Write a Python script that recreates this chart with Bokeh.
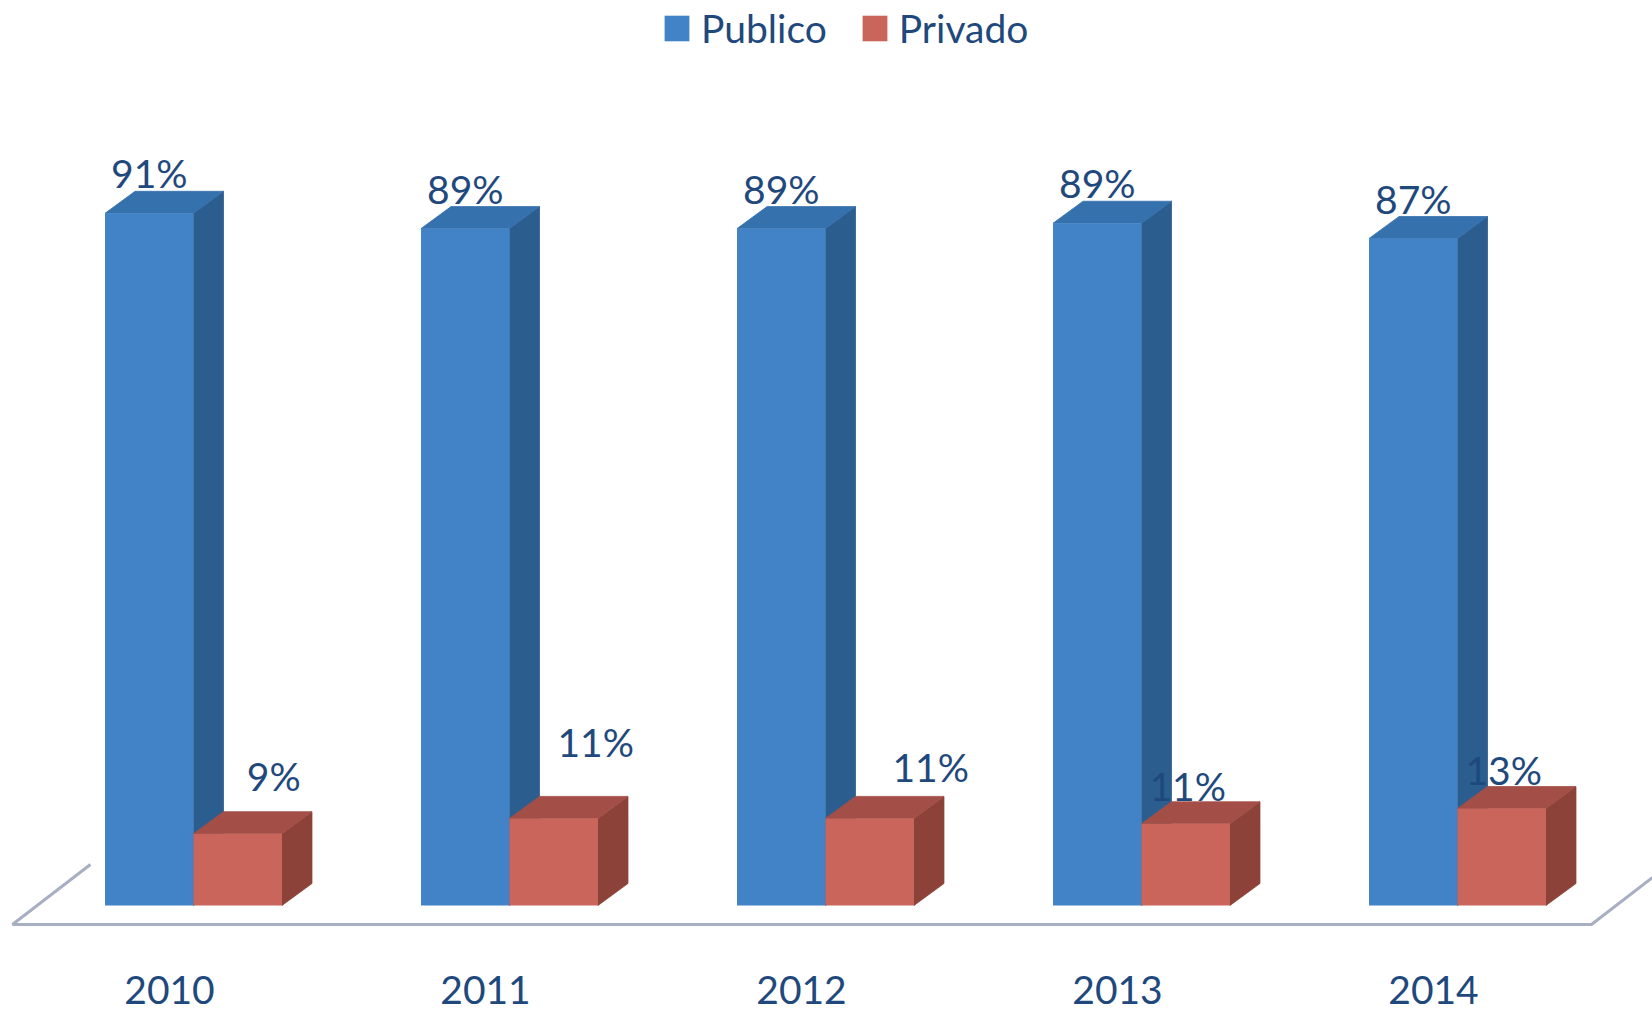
import numpy as np
from bokeh.plotting import figure
from bokeh.models import ColumnDataSource, Legend, LegendItem, Range1d
from bokeh.core.properties import value
from bokeh.embed import file_html
from bokeh.resources import INLINE

# ---------------- data ----------------
years = ["2010", "2011", "2012", "2013", "2014"]
publico = [90.6, 88.6, 88.6, 89.3, 87.3]
privado = [9.4, 11.4, 11.4, 10.7, 12.7]
series_names = ["Publico", "Privado"]

# hand-placed nudges (px) of the Privado data labels in the original
privado_label_dx = [36, 42, 61, 2, 2]
privado_label_dy = [-20, -38, -13, 0, 0]

# ---------------- layout / style ----------------
W, H = 1652, 1012
PX_PER_CAT = 316.0
PX_PER_PCT = 7.64
x0 = -193 / PX_PER_CAT
y0 = -(H - 905) / PX_PER_PCT
bw = 0.28                      # bar front width (category units)
dx = 30 / PX_PER_CAT           # 3-D depth offset, x
dy = 22 / PX_PER_PCT           # 3-D depth offset, y
TSHIFT = -16                   # baseline correction for text glyphs (px)
FONT = "Lato"
TXT = "#1f497d"
BLUE_FRONT, BLUE_SIDE, BLUE_TOP = "#4283c7", "#2b5d8f", "#3571ad"
RED_FRONT, RED_SIDE, RED_TOP = "#c9655b", "#8c4239", "#a34f47"
FLOOR = "#a8afc2"

p = figure(width=W, height=H, x_range=Range1d(x0, x0 + W / PX_PER_CAT),
           y_range=Range1d(y0, y0 + H / PX_PER_PCT),
           x_axis_type=None, y_axis_type=None, toolbar_location=None,
           output_backend="svg", min_border=0, outline_line_color=None)
p.grid.visible = False
p.background_fill_color = "white"

idx = np.arange(len(years), dtype=float)
pub = np.array(publico)
pri = np.array(privado)

# floor (front edge + side diagonals)
fl_left, fl_right = -0.573, (len(years) - 1) + 0.424
fl_y = -19 / PX_PER_PCT
fdx, fdy = 78 / PX_PER_CAT, 60 / PX_PER_PCT
p.line([fl_left + fdx, fl_left, fl_right, fl_right + fdx],
       [fl_y + fdy, fl_y, fl_y, fl_y + fdy], line_color=FLOOR, line_width=3)


def box_faces(left, right, top):
    sides_x, sides_y, tops_x, tops_y = [], [], [], []
    for l, r, t in zip(left, right, top):
        sides_x.append([r, r + dx, r + dx, r])
        sides_y.append([0, dy, t + dy, t])
        tops_x.append([l, r, r + dx, l + dx])
        tops_y.append([t, t, t + dy, t + dy])
    return sides_x, sides_y, tops_x, tops_y


# Publico boxes
sx, sy, tx, ty = box_faces(idx - bw, idx, pub)
p.patches(sx, sy, fill_color=BLUE_SIDE, line_color=BLUE_SIDE, line_width=0.8)
p.patches(tx, ty, fill_color=BLUE_TOP, line_color=BLUE_TOP, line_width=0.8)
blue_front = p.vbar(x=idx - bw / 2, width=bw, top=pub, bottom=0,
                    fill_color=BLUE_FRONT, line_color=None)

# Privado boxes
sx, sy, tx, ty = box_faces(idx, idx + bw, pri)
p.patches(sx, sy, fill_color=RED_SIDE, line_color=RED_SIDE, line_width=0.8)
p.patches(tx, ty, fill_color=RED_TOP, line_color=RED_TOP, line_width=0.8)
red_front = p.vbar(x=idx + bw / 2, width=bw, top=pri, bottom=0,
                   fill_color=RED_FRONT, line_color=None)

# data labels
pub_src = ColumnDataSource(dict(x=idx - bw / 2, y=pub + dy,
                                t=[f"{round(v)}%" for v in publico]))
p.text(x="x", y="y", text="t", source=pub_src, text_align="center",
       text_baseline="alphabetic", y_offset=-2 + TSHIFT, text_color=TXT,
       text_font=value(FONT), text_font_size="39px")
pri_src = ColumnDataSource(dict(x=idx + bw / 2, y=pri + dy,
                                t=[f"{round(v)}%" for v in privado],
                                xo=privado_label_dx,
                                yo=[d + TSHIFT for d in privado_label_dy]))
p.text(x="x", y="y", text="t", source=pri_src, text_align="center",
       text_baseline="alphabetic", x_offset="xo", y_offset="yo",
       text_color=TXT, text_font=value(FONT), text_font_size="39px")

# category labels
p.text(x=idx, y=[y0 + 7 / PX_PER_PCT] * len(years), text=years,
       x_offset=-24, y_offset=TSHIFT, text_align="center",
       text_baseline="alphabetic", text_color=TXT, text_font=value(FONT),
       text_font_size="39px")

legend = Legend(items=[LegendItem(label=series_names[0], renderers=[blue_front]),
                       LegendItem(label=series_names[1], renderers=[red_front])],
                orientation="horizontal", location=(661, H - 51),
                glyph_width=31, glyph_height=32, label_standoff=9, spacing=32,
                padding=0, margin=0, border_line_color=None,
                background_fill_alpha=0, label_text_font=FONT,
                label_text_font_size="39px", label_text_color=TXT)
p.add_layout(legend)

open("out.html", "w").write(file_html(p, INLINE))
